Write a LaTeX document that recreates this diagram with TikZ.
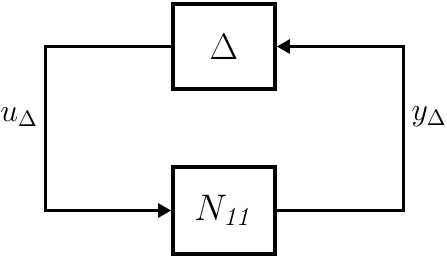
\documentclass[tikz,border=0pt]{standalone}
\usepackage{fix-cm}
\usepackage{amsmath}
\usepackage{tikz}
\usetikzlibrary{arrows.meta,positioning}
\tikzset{
  blk/.style={rectangle, draw=black, line width=1.8pt, fill=white,
              minimum width=51pt, minimum height=42.5pt, inner sep=0pt,
              font=\fontsize{18.5}{22}\selectfont},
  fl/.style={-{Triangle[length=6.5pt,width=7pt]}, draw=black, line width=1.4pt},
  lbl/.style={font=\fontsize{16}{19}\selectfont, inner sep=0pt}
}

\begin{document}
\begin{tikzpicture}[x=0.5pt,y=-0.5pt]
  \useasboundingbox (0,0) rectangle (447,262);
  \node[blk] (delta) at (224,46.5) {$\Delta$};
  \node[blk, minimum height=43.5pt] (plant) at (224,210.5) {$N_{\mathit{11}}$};
  \draw[fl] (delta.west) -- ++(-126,0) coordinate (lc) |- (plant.west);
  \draw[fl] (plant.east) -- ++(127,0) coordinate (rc) |- (delta.east);
  \node[lbl] (u) at (19,117) {$u_{\Delta}$};
  \node[lbl] (y) at (429,117) {$y_{\Delta}$};
\end{tikzpicture}
\end{document}
